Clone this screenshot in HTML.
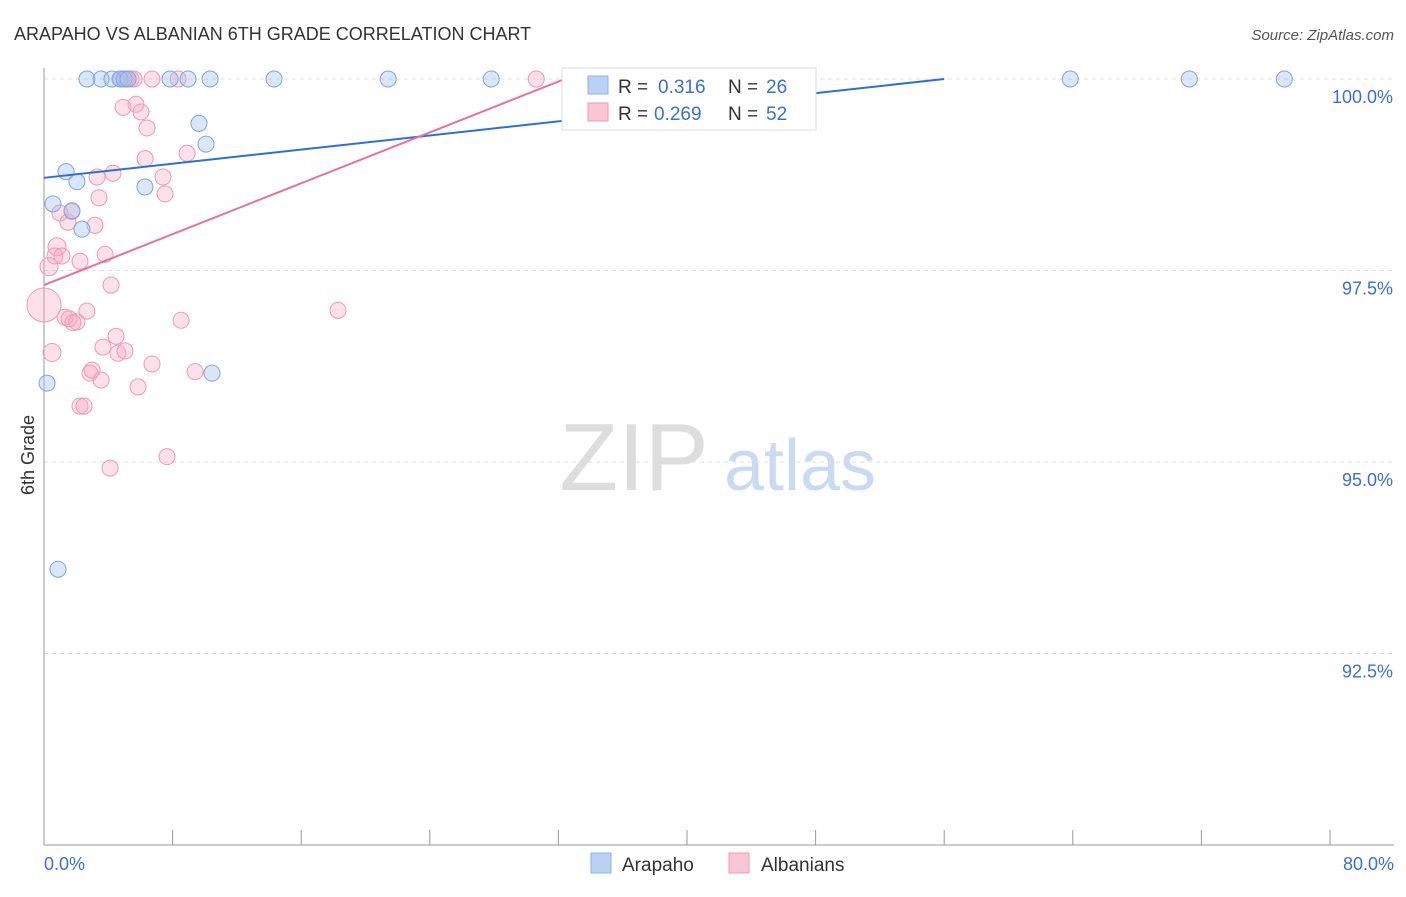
<!DOCTYPE html>
<html><head><meta charset="utf-8"><style>
body{margin:0;background:#fff;font-family:"Liberation Sans",sans-serif;}
svg text{font-family:"Liberation Sans",sans-serif;}
</style></head><body>
<svg id="chart" width="1406" height="892">
<text x="14" y="40" font-size="18" fill="#333">ARAPAHO VS ALBANIAN 6TH GRADE CORRELATION CHART</text>
<text x="1394" y="40" font-size="15" fill="#555" font-style="italic" text-anchor="end">Source: ZipAtlas.com</text>
<text x="634" y="490" font-size="96" fill="#ddd" font-family="Liberation Serif" text-anchor="middle">ZIP</text>
<text x="800" y="490" font-size="72" fill="#c9dbf2" text-anchor="middle">atlas</text>
<g id="grid"></g><g id="axes"></g><g id="pts"></g><g id="lines"></g>
<text transform="translate(34,455) rotate(-90)" font-size="18" fill="#333" text-anchor="middle">6th Grade</text>
<g>
<rect x="562" y="68" width="254" height="62" fill="#fff" stroke="#ddd"/>
<rect x="588" y="76" width="20" height="18" fill="#b8d1f5" stroke="#8fb3e6"/>
<text x="618" y="93" font-size="19" fill="#333">R = </text><text x="658" y="93" font-size="19" fill="#3b6fd4">0.316</text>
<text x="728" y="93" font-size="19" fill="#333">N = </text><text x="766" y="93" font-size="19" fill="#3b6fd4">26</text>
<rect x="588" y="103" width="20" height="18" fill="#f9c6d5" stroke="#ef9ab4"/>
<text x="618" y="120" font-size="19" fill="#333">R = </text><text x="654" y="120" font-size="19" fill="#3b6fd4">0.269</text>
<text x="728" y="120" font-size="19" fill="#333">N = </text><text x="766" y="120" font-size="19" fill="#3b6fd4">52</text>
</g>
<g>
<rect x="591" y="853" width="20" height="20" fill="#b8d1f5" stroke="#8fb3e6"/><text x="622" y="871" font-size="19" fill="#333">Arapaho</text>
<rect x="729" y="853" width="20" height="20" fill="#f9c6d5" stroke="#ef9ab4"/><text x="761" y="871" font-size="19" fill="#333">Albanians</text>
</g>
</svg>
<script>
const xTicks=[0,8,16,24,32,40,48,56,64,72,80];
const yTicks=[100,97.5,95,92.5];
const yTickLabels=["100.0%","97.5%","95.0%","92.5%"];
const arapahoX=[2.67,3.55,4.23,4.73,4.98,5.23,7.84,8.96,10.33,14.31,21.41,27.82,63.84,71.25,77.16,1.37,2.05,0.56,1.74,2.36,6.28,9.64,10.08,10.45,0.19,0.87];
const arapahoY=[100,100,100,100,100,100,100,100,100,100,100,100,100,100,100,98.79,98.66,98.37,98.28,98.04,98.59,99.42,99.15,96.16,96.03,93.6];
const albX=[4.79,5.10,5.41,5.60,6.72,8.34,30.62,4.92,5.72,6.03,6.41,8.90,6.29,4.29,3.30,7.40,7.53,3.42,0.99,1.49,3.17,0.81,0.68,1.12,3.80,2.24,0.31,0.0,4.17,2.67,1.31,1.56,2.05,1.80,8.53,18.29,0.5,3.67,4.48,4.60,5.04,6.72,2.86,2.99,3.55,9.40,5.85,2.24,2.49,4.11,7.65,1.74];
const albY=[100,100,100,100,100,100,100,99.63,99.67,99.57,99.36,99.03,98.96,98.77,98.72,98.72,98.50,98.45,98.25,98.13,98.09,97.81,97.69,97.69,97.71,97.62,97.55,97.05,97.31,96.97,96.89,96.87,96.83,96.82,96.85,96.98,96.43,96.50,96.64,96.42,96.45,96.28,96.16,96.20,96.07,96.18,95.98,95.73,95.73,94.92,95.07,98.27];
const albR=[8,8,8,8,8,8,8,8,8,8,8,8,8,8,8,8,8,8,8,8,8,9,8,8,8,8,9,17,8,8,8,8,8,8,8,8,9,8,8,8,8,8,8,8,8,8,8,8,8,8,8,8];
const blueLine=[0,98.71,56,100];
const pinkLine=[0,97.31,32.4,100];
const sx=v=>44+v*16.075, sy=v=>79+(100-v)*76.6;
const NS="http://www.w3.org/2000/svg";
function mk(p,t,a){const e=document.createElementNS(NS,t);for(const k in a)e.setAttribute(k,a[k]);document.getElementById(p).appendChild(e);return e;}
yTicks.forEach((t,i)=>{
 const l=mk('grid','line',{x1:44,x2:1394,y1:sy(t),y2:sy(t),stroke:'#ddd','stroke-dasharray':'4,4'});
 
 
 const tx=mk('grid','text',{x:1393,y:sy(t)+24,'font-size':18,fill:'#3b6fd4','text-anchor':'end'});
 tx.textContent=yTickLabels[i];
 
 
});
mk('axes','line',{x1:44,x2:44,y1:68,y2:845,stroke:'#999'});
mk('axes','line',{x1:44,x2:1394,y1:845,y2:845,stroke:'#999'});
xTicks.forEach(t=>{const l=mk('axes','line',{x1:sx(t),x2:sx(t),y1:830,y2:845,stroke:'#999'});
 
 });
let a=mk('axes','text',{x:44,y:870,'font-size':18,fill:'#3b6fd4'});a.textContent='0.0%';


a=mk('axes','text',{x:1394,y:870,'font-size':18,fill:'#3b6fd4','text-anchor':'end'});a.textContent='80.0%';


albX.forEach((x,i)=>{const c=mk('pts','circle',{cx:sx(x),cy:sy(albY[i]),r:albR[i],fill:'rgba(246,170,195,0.35)',stroke:'#ee9ab5','stroke-width':1});
 
 });
arapahoX.forEach((x,i)=>{const c=mk('pts','circle',{cx:sx(x),cy:sy(arapahoY[i]),r:8,fill:'rgba(160,195,240,0.4)',stroke:'#7ea6e0','stroke-width':1});
 
 });
let l=mk('lines','line',{x1:sx(blueLine[0]),y1:sy(blueLine[1]),x2:sx(blueLine[2]),y2:sy(blueLine[3]),stroke:'#2c6fd6','stroke-width':2});


l=mk('lines','line',{x1:sx(pinkLine[0]),y1:sy(pinkLine[1]),x2:sx(pinkLine[2]),y2:sy(pinkLine[3]),stroke:'#e8709a','stroke-width':2});


</script>
</body></html>
